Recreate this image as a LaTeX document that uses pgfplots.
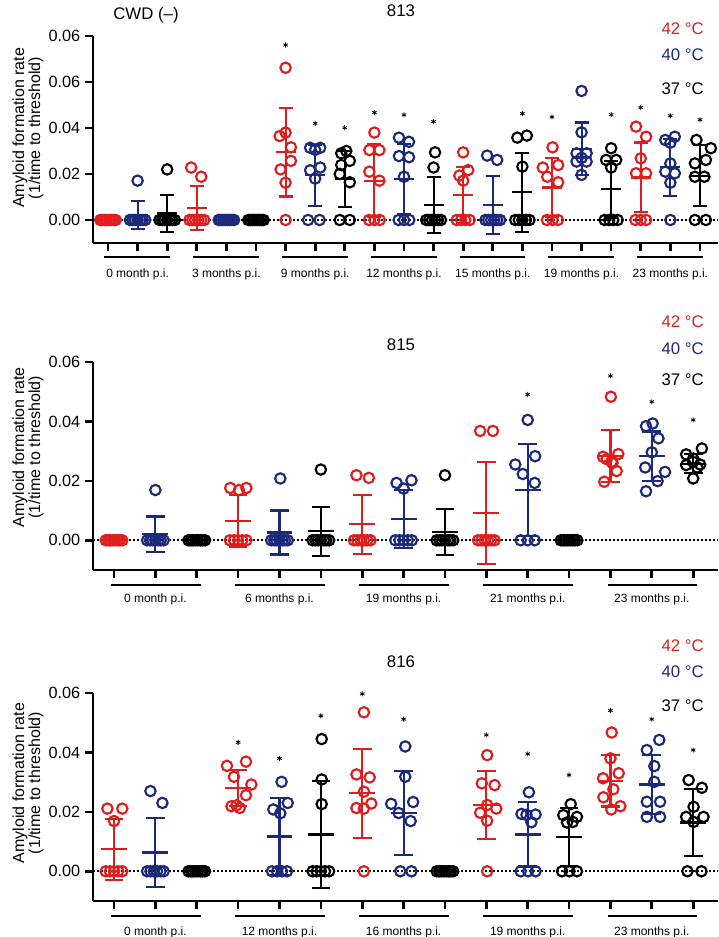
\documentclass[border=0pt]{standalone}
\usepackage{fontspec}
\setmainfont{Liberation Sans}
\usepackage{pgfplots}
\pgfplotsset{compat=1.18}
\definecolor{cred}{RGB}{222,30,30}
\definecolor{cblue}{RGB}{28,40,120}

\pgfplotsset{
  panel/.style={
    scale only axis, width=468.75pt, anchor=south west,
    axis x line=bottom, axis y line=left,
    axis line style={-, line width=2.2pt},
    xtick align=outside, ytick align=outside,
    major tick length=6pt,
    tick style={line width=2pt, black},
    clip=false, scaled y ticks=false,
    yticklabel style={font=\fontsize{12.2}{14}\selectfont},
    xticklabel style={font=\fontsize{9}{10}\selectfont},
    ylabel={Amyloid formation rate\\(1/time to threshold)},
    ylabel style={anchor=center, align=center, font=\fontsize{12}{12}\selectfont},
  },
  pts/.style={only marks, mark=o, mark size=3.9pt, line width=1.6pt},
  zline/.style={line width=1.4pt, dash pattern=on 1.4pt off 1.6pt, black},
  uline/.style={line width=1.6pt, black},
  star/.style={only marks, mark=asterisk, mark size=1.9pt, line width=0.6pt, black},
  meanbar/.style n args={2}{only marks, mark=-, mark size=#1, mark options={line width=1.6pt},
    error bars/y dir=both, error bars/y explicit,
    error bars/error bar style={line width=1.6pt},
    error bars/error mark options={rotate=90, line width=1.6pt, mark size=#2}},
}

\begin{document}
\begin{tikzpicture}
\path[use as bounding box] (0,0) rectangle (538.5pt,702.75pt);

% ---------------- 813
\begin{axis}[panel, at={(69.75pt,520.5pt)}, height=155.25pt,
  xmin=0.493, xmax=21.61, ymin=-0.01, ymax=0.08,
  xtick={1,...,21},
  xticklabels={{},{0 month p.i.},{},{},{3 months p.i.},{},{},{9 months p.i.},{},{},{12 months p.i.},{},{},{15 months p.i.},{},{},{19 months p.i.},{},{},{23 months p.i.},{}},
  xticklabel style={yshift=-9.5pt},
  ytick={0,0.02,0.04,0.06,0.08},
  yticklabels={0.00,0.02,0.04,0.06,0.06},
  ylabel style={at={(axis description cs:-0.104,0.556)}},
]
\addplot[zline] coordinates {(0.493,0) (21.61,0)};
\addplot[uline] coordinates {(0.88,-0.0161) (3.1,-0.0161)};
\addplot[uline] coordinates {(3.88,-0.0161) (6.1,-0.0161)};
\addplot[uline] coordinates {(6.88,-0.0161) (9.1,-0.0161)};
\addplot[uline] coordinates {(9.88,-0.0161) (12.1,-0.0161)};
\addplot[uline] coordinates {(12.88,-0.0161) (15.1,-0.0161)};
\addplot[uline] coordinates {(15.88,-0.0161) (18.1,-0.0161)};
\addplot[uline] coordinates {(18.88,-0.0161) (21.1,-0.0161)};

% 42 C
\addplot[pts, cred] coordinates {
 (0.74,0)(0.81,0)(0.89,0)(0.96,0)(1.04,0)(1.11,0)(1.19,0)(1.26,0)
 (3.81,0.0228)(4.15,0.0188)(3.75,0)(3.85,0)(3.95,0)(4.05,0)(4.15,0)(4.25,0)
 (7,0.0662)(6.8,0.0365)(7,0.0380)(7.18,0.0316)(7.18,0.0257)(6.83,0.0220)(7,0.0162)(7,0)
 (10,0.038)(9.83,0.0304)(10.17,0.0304)(9.83,0.021)(10.17,0.0171)(9.82,0)(10,0)(10.18,0)
 (13,0.0294)(12.87,0.0193)(13.17,0.0217)(13,0.0171)(12.78,0)(12.93,0)(13.07,0)(13.22,0)
 (16.02,0.0316)(15.69,0.0228)(16.21,0.0239)(15.84,0.0188)(16.21,0.0164)(15.83,0)(16.02,0)(16.2,0)
 (18.84,0.0406)(19.18,0.0362)(19,0.0268)(18.84,0.0203)(19.18,0.0203)(18.82,0)(19,0)(19.18,0)
};
% 40 C
\addplot[pts, cblue] coordinates {
 (2,0.0171)(1.74,0)(1.83,0)(1.91,0)(2,0)(2.09,0)(2.17,0)(2.26,0)
 (4.74,0)(4.81,0)(4.89,0)(4.96,0)(5.04,0)(5.11,0)(5.19,0)(5.26,0)
 (7.83,0.0314)(8.17,0.0314)(8,0.0305)(7.83,0.0216)(8.17,0.0228)(8,0.018)(7.76,0)(8.15,0)
 (10.83,0.0358)(11.17,0.034)(10.83,0.0278)(11.17,0.0273)(11,0.0188)(10.82,0)(11,0)(11.18,0)
 (13.81,0.028)(14.15,0.0261)(13.75,0)(13.85,0)(13.95,0)(14.05,0)(14.15,0)(14.25,0)
 (17,0.0561)(17,0.0381)(16.83,0.029)(17.17,0.029)(16.83,0.0254)(17.17,0.0254)(17,0.0196)(17,0.027)
 (19.83,0.0348)(20.15,0.0362)(20,0.0336)(20,0.0246)(19.83,0.021)(20.15,0.0203)(20,0.0162)(20,0)
};
% 37 C
\addplot[pts, black] coordinates {
 (3,0.022)(2.74,0)(2.83,0)(2.91,0)(3,0)(3.09,0)(3.17,0)(3.26,0)
 (5.74,0)(5.81,0)(5.89,0)(5.96,0)(6.04,0)(6.11,0)(6.19,0)(6.26,0)
 (9.05,0.0300)(8.88,0.0290)(9.17,0.0257)(8.88,0.0239)(8.83,0.0200)(9.17,0.0164)(8.83,0)(9.17,0)
 (12.05,0.0294)(12,0.0228)(11.75,0)(11.85,0)(11.95,0)(12.05,0)(12.15,0)(12.25,0)
 (14.83,0.0358)(15.15,0.0367)(15,0.0232)(14.76,0)(14.88,0)(15,0)(15.12,0)(15.24,0)
 (18,0.0312)(17.83,0.0261)(18.17,0.0261)(18,0.0228)(17.78,0)(17.93,0)(18.07,0)(18.22,0)
 (20.88,0.0348)(21.37,0.0312)(21.2,0.0261)(20.83,0.0246)(21.15,0.0188)(20.83,0.0188)(20.83,0)(21.2,0)
};
% mean +- SD
\addplot[cred, meanbar={7.5pt}{5.2pt}] coordinates {
 (1,0) +- (0,0) (4,0.0052) +- (0,0.0097) (7,0.0294) +- (0,0.0192) (10,0.0171) +- (0,0.0158)
 (13,0.0109) +- (0,0.0123) (16,0.0141) +- (0,0.0127) (19,0.0185) +- (0,0.0152)};
\addplot[cblue, meanbar={7.5pt}{5.2pt}] coordinates {
 (2,0.0021) +- (0,0.0062) (5,0) +- (0,0) (8,0.0194) +- (0,0.0133) (11,0.0178) +- (0,0.0152)
 (14,0.0066) +- (0,0.0127) (17,0.0309) +- (0,0.0115) (20,0.0230) +- (0,0.0124)};
\addplot[black, meanbar={7.5pt}{5.2pt}] coordinates {
 (3,0.0028) +- (0,0.0079) (6,0) +- (0,0) (9,0.0179) +- (0,0.0121) (12,0.0065) +- (0,0.0123)
 (15,0.012) +- (0,0.0172) (18,0.0133) +- (0,0.0122) (21,0.0193) +- (0,0.0133)};
\addplot[star] coordinates {
 (7,0.0761)(8,0.042)(9,0.0401)(10,0.0467)(11,0.0457)(12,0.0428)
 (15,0.0463)(16,0.0448)(18,0.0458)(19,0.0489)(20,0.0453)(21,0.0436)};
\end{axis}

% ---------------- 815
\begin{axis}[panel, at={(69.75pt,275.25pt)}, height=156pt,
  xmin=0.492, xmax=15.6, ymin=-0.01, ymax=0.06,
  xtick={1,...,15},
  xticklabels={{},{0 month p.i.},{},{},{6 months p.i.},{},{},{19 months p.i.},{},{},{21 months p.i.},{},{},{23 months p.i.},{}},
  xticklabel style={yshift=-8.3pt},
  ytick={0,0.02,0.04,0.06},
  yticklabels={0.00,0.02,0.04,0.06},
  ylabel style={at={(axis description cs:-0.104,0.59)}},
]
\addplot[zline] coordinates {(0.492,0) (15.6,0)};
\addplot[uline] coordinates {(0.93,-0.0151) (3.1,-0.0151)};
\addplot[uline] coordinates {(3.93,-0.0151) (6.1,-0.0151)};
\addplot[uline] coordinates {(6.93,-0.0151) (9.1,-0.0151)};
\addplot[uline] coordinates {(9.93,-0.0151) (12.1,-0.0151)};
\addplot[uline] coordinates {(12.93,-0.0151) (15.1,-0.0151)};

\addplot[pts, cred] coordinates {
 (0.8,0)(0.86,0)(0.91,0)(0.97,0)(1.03,0)(1.09,0)(1.14,0)(1.2,0)
 (3.81,0.0176)(4.02,0.0169)(4.2,0.0176)(3.8,0)(3.9,0)(4,0)(4.1,0)(4.2,0)
 (6.86,0.0219)(7.16,0.021)(6.8,0)(6.88,0)(6.96,0)(7.04,0)(7.12,0)(7.2,0)
 (9.85,0.0368)(10.16,0.0368)(9.8,0)(9.88,0)(9.96,0)(10.04,0)(10.12,0)(10.2,0)
 (13.01,0.0483)(13.19,0.029)(12.82,0.0281)(12.91,0.0273)(13.03,0.0264)(13.15,0.0233)(12.85,0.0197)(13.05,0.026)
};
\addplot[pts, cblue] coordinates {
 (2,0.0169)(1.8,0)(1.87,0)(1.93,0)(2,0)(2.07,0)(2.13,0)(2.2,0)
 (5.02,0.0208)(4.8,0)(4.87,0)(4.93,0)(5,0)(5.07,0)(5.13,0)(5.2,0)
 (7.83,0.0193)(8.19,0.0202)(8,0.0174)(7.8,0)(7.9,0)(8,0)(8.1,0)(8.2,0)
 (11,0.0405)(11.18,0.0283)(10.7,0.0255)(10.88,0.0223)(11.17,0.0193)(10.83,0)(11,0)(11.17,0)
 (13.86,0.0384)(14.02,0.0393)(14.16,0.0343)(14,0.0296)(13.84,0.0245)(14.32,0.023)(14.14,0.0199)(13.86,0.0165)
};
\addplot[pts, black] coordinates {
 (2.8,0)(2.86,0)(2.91,0)(2.97,0)(3.03,0)(3.09,0)(3.14,0)(3.2,0)
 (6,0.0238)(5.8,0)(5.87,0)(5.93,0)(6,0)(6.07,0)(6.13,0)(6.2,0)
 (9,0.0219)(8.8,0)(8.87,0)(8.93,0)(9,0)(9.07,0)(9.13,0)(9.2,0)
 (11.8,0)(11.86,0)(11.91,0)(11.97,0)(12.03,0)(12.09,0)(12.14,0)(12.2,0)
 (15.21,0.0309)(14.83,0.0289)(15,0.0275)(14.83,0.0253)(15,0.0264)(15.17,0.0255)(15,0.0208)(15.1,0.0245)
};
\addplot[cred, meanbar={9.7pt}{7pt}] coordinates {
 (1,0) +- (0,0) (4,0.0065) +- (0,0.0088) (7,0.0054) +- (0,0.0099)
 (10,0.0092) +- (0,0.0172) (13,0.0284) +- (0,0.0087)};
\addplot[cblue, meanbar={9.7pt}{7pt}] coordinates {
 (2,0.002) +- (0,0.006) (5,0.0026) +- (0,0.0074) (8,0.0072) +- (0,0.0098)
 (11,0.0169) +- (0,0.0155) (14,0.0283) +- (0,0.0083)};
\addplot[black, meanbar={9.7pt}{7pt}] coordinates {
 (3,0) +- (0,0) (6,0.003) +- (0,0.0083) (9,0.0028) +- (0,0.0078)
 (12,0) +- (0,0) (15,0.0258) +- (0,0.0031)};
\addplot[star] coordinates {(11,0.0491)(13,0.0553)(14,0.0466)(15,0.0405)};
\end{axis}

% ---------------- 816
\begin{axis}[panel, at={(69.75pt,27pt)}, height=156pt,
  xmin=0.492, xmax=15.6, ymin=-0.01, ymax=0.06,
  xtick={1,...,15},
  xticklabels={{},{0 month p.i.},{},{},{12 months p.i.},{},{},{16 months p.i.},{},{},{19 months p.i.},{},{},{23 months p.i.},{}},
  xticklabel style={yshift=-9.5pt},
  ytick={0,0.02,0.04,0.06},
  yticklabels={0.00,0.02,0.04,0.06},
  ylabel style={at={(axis description cs:-0.104,0.567)}},
]
\addplot[zline] coordinates {(0.492,0) (15.6,0)};
\addplot[uline] coordinates {(0.93,-0.0151) (3.1,-0.0151)};
\addplot[uline] coordinates {(3.93,-0.0151) (6.1,-0.0151)};
\addplot[uline] coordinates {(6.93,-0.0151) (9.1,-0.0151)};
\addplot[uline] coordinates {(9.93,-0.0151) (12.1,-0.0151)};
\addplot[uline] coordinates {(12.93,-0.0151) (15.1,-0.0151)};

\addplot[pts, cred] coordinates {
 (0.84,0.0211)(1.2,0.0211)(1,0.0169)(0.8,0)(0.9,0)(1,0)(1.1,0)(1.2,0)
 (3.73,0.0355)(4.19,0.0369)(3.9,0.0318)(4.32,0.0292)(4.19,0.0256)(3.84,0.0219)(4.04,0.0213)(3.96,0.0222)
 (7.04,0.0535)(6.86,0.0326)(7.18,0.0316)(7.04,0.0268)(6.86,0.0213)(7.22,0.0228)(7.04,0.0211)(7.04,0)
 (10.02,0.0391)(9.89,0.0296)(10.2,0.029)(10.02,0.0223)(9.85,0.0197)(10.24,0.0211)(10.02,0.017)(10.02,0)
 (13.03,0.0467)(13,0.038)(13.2,0.033)(12.82,0.0313)(13.07,0.0276)(12.83,0.0249)(13.24,0.0219)(13.02,0.0208)
};
\addplot[pts, cblue] coordinates {
 (1.88,0.027)(2.17,0.023)(1.8,0)(1.88,0)(1.96,0)(2.04,0)(2.12,0)(2.2,0)
 (5.05,0.0301)(5.2,0.023)(4.85,0.0208)(5.02,0.0195)(4.82,0)(4.94,0)(5.06,0)(5.18,0)
 (8.04,0.042)(8.04,0.0318)(7.7,0.0227)(8.23,0.0233)(7.88,0.0196)(8.17,0.0169)(7.92,0)(8.19,0)
 (11.03,0.0266)(10.85,0.0193)(11.19,0.0191)(11.09,0.0165)(10.97,0.019)(10.83,0)(11.01,0)(11.19,0)
 (14.18,0.0442)(13.88,0.0408)(14.06,0.0354)(14.06,0.0301)(13.88,0.0234)(14.2,0.0234)(13.88,0.0183)(14.2,0.0183)
};
\addplot[pts, black] coordinates {
 (2.8,0)(2.86,0)(2.91,0)(2.97,0)(3.03,0)(3.09,0)(3.14,0)(3.2,0)
 (6.02,0.0445)(6.02,0.0309)(6.02,0.0226)(5.8,0)(5.9,0)(6,0)(6.1,0)(6.2,0)
 (8.8,0)(8.86,0)(8.91,0)(8.97,0)(9.03,0)(9.09,0)(9.14,0)(9.2,0)
 (12.04,0.0226)(11.86,0.0189)(12.19,0.0183)(12.09,0.0166)(11.95,0.0164)(11.83,0)(12.01,0)(12.19,0)
 (14.89,0.0307)(15.21,0.0281)(15.01,0.0217)(14.83,0.0183)(15.25,0.0183)(15.01,0.0166)(14.86,0)(15.2,0)
};
\addplot[cred, meanbar={9.7pt}{7pt}] coordinates {
 (1,0.0074) +- (0,0.0103) (4,0.0281) +- (0,0.006) (7,0.0262) +- (0,0.0149)
 (10,0.0223) +- (0,0.0115) (13,0.0304) +- (0,0.0086)};
\addplot[cblue, meanbar={9.7pt}{7pt}] coordinates {
 (2,0.0063) +- (0,0.0117) (5,0.0117) +- (0,0.013) (8,0.0196) +- (0,0.0142)
 (11,0.0124) +- (0,0.0108) (14,0.0292) +- (0,0.0099)};
\addplot[black, meanbar={9.7pt}{7pt}] coordinates {
 (3,0) +- (0,0) (6,0.0124) +- (0,0.0181) (9,0) +- (0,0)
 (12,0.0116) +- (0,0.0097) (15,0.0164) +- (0,0.0113)};
\addplot[star] coordinates {
 (4,0.0434)(5,0.038)(6,0.0523)(7,0.0597)(8,0.0512)(10,0.0459)
 (11,0.0395)(12,0.0324)(13,0.0541)(14,0.0512)(15,0.0408)};
\end{axis}

% panel titles and temperature keys
\begin{scope}[every node/.style={inner sep=0pt, font=\fontsize{12.6}{14}\selectfont}]
\node at (109.5pt,691.5pt) {CWD (–)};
\node at (300.75pt,694.5pt) {813};
\node[anchor=east, text=cred] at (528pt,681.4pt) {42 °C};
\node[anchor=east, text=cblue] at (528pt,661.5pt) {40 °C};
\node[anchor=east] at (528pt,636.4pt) {37 °C};
\node at (300.75pt,444pt) {815};
\node[anchor=east, text=cred] at (528pt,461.6pt) {42 °C};
\node[anchor=east, text=cblue] at (528pt,441.4pt) {40 °C};
\node[anchor=east] at (528pt,417.75pt) {37 °C};
\node at (300.75pt,206.25pt) {816};
\node[anchor=east, text=cred] at (528pt,218.6pt) {42 °C};
\node[anchor=east, text=cblue] at (528pt,198.75pt) {40 °C};
\node[anchor=east] at (528pt,173.6pt) {37 °C};
\end{scope}
\end{tikzpicture}
\end{document}
